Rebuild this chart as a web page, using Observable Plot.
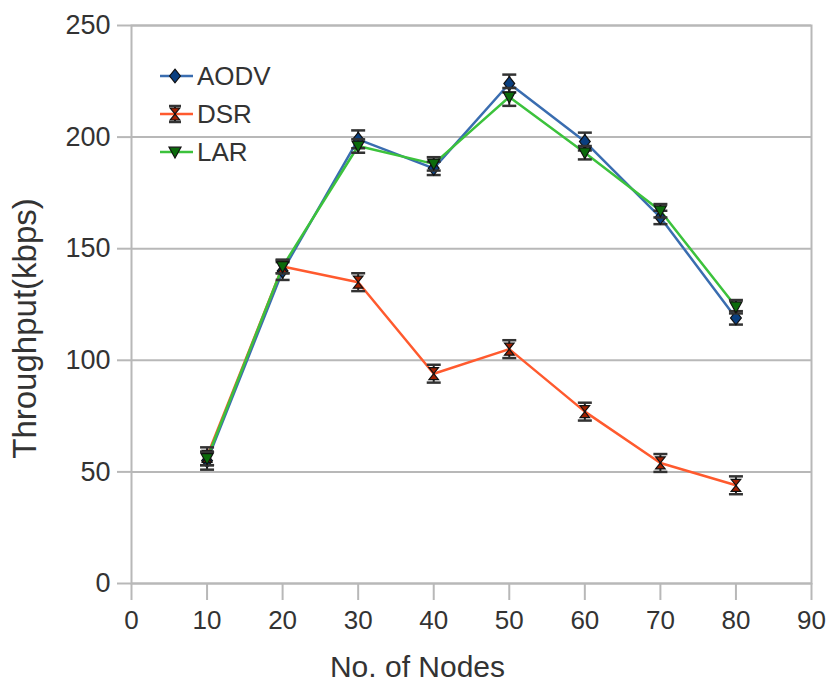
<!DOCTYPE html>
<html>
<head>
<meta charset="utf-8">
<script src="https://cdn.jsdelivr.net/npm/d3@7"></script>
<script src="https://cdn.jsdelivr.net/npm/@observablehq/plot@0.6"></script>
<style>
  html, body { margin: 0; padding: 0; background: #fff; }
  #chart { position: relative; width: 827px; height: 687px; }
</style>
</head>
<body>
<div id="chart"></div>
<script>
// ---- data ----
const seriesNames = ["AODV", "DSR", "LAR"];
const nodes = [10, 20, 30, 40, 50, 60, 70, 80];
const aodv = [55, 140, 199, 186, 224, 198, 164, 119];
const dsr  = [57, 142, 135, 94, 105, 77, 54, 44];
const lar  = [56, 142, 196, 188, 218, 193, 167, 124];
const aodvErr = [4, 4, 4, 3, 4, 4, 3, 3];
const dsrErr  = [4, 3, 4, 4, 4, 4, 4, 4];
const larErr  = [3, 3, 3, 3, 4, 3, 3, 3];
const xTicks = [0, 10, 20, 30, 40, 50, 60, 70, 80, 90];
const yTicks = [0, 50, 100, 150, 200, 250];
const xTitle = "No. of Nodes";
const yTitle = "Throughput(kbps)";

const lineColors = { AODV: "#3a6db0", DSR: "#ff5a2e", LAR: "#3cc23c" };
const markerFill = { AODV: "#0a3f80", DSR: "#a02000", LAR: "#0b6b0b" };

// custom symbols
const symDiamond = { draw(ctx, size) { const r = Math.sqrt(size / Math.PI); ctx.moveTo(0, -r * 1.15); ctx.lineTo(r * 0.9, 0); ctx.lineTo(0, r * 1.15); ctx.lineTo(-r * 0.9, 0); ctx.closePath(); } };
const symHourglass = { draw(ctx, size) { const r = Math.sqrt(size / Math.PI); ctx.moveTo(-r * 0.8, -r); ctx.lineTo(r * 0.8, -r); ctx.lineTo(-r * 0.8, r); ctx.lineTo(r * 0.8, r); ctx.closePath(); } };
const symTriDown = { draw(ctx, size) { const r = Math.sqrt(size / Math.PI); ctx.moveTo(-r, -r * 0.8); ctx.lineTo(r, -r * 0.8); ctx.lineTo(0, r); ctx.closePath(); } };
const symCap = { draw(ctx, size) { const r = Math.sqrt(size / Math.PI); ctx.moveTo(-r, 0); ctx.lineTo(r, 0); } };
const symbols = { AODV: symDiamond, DSR: symHourglass, LAR: symTriDown };

const valueSets = { AODV: [aodv, aodvErr], DSR: [dsr, dsrErr], LAR: [lar, larErr] };
const rows = [];
for (const s of seriesNames) {
  const [vals, errs] = valueSets[s];
  nodes.forEach((n, i) => rows.push({ series: s, x: n, y: vals[i], err: errs[i] }));
}

const marks = [
  Plot.gridY(yTicks, { stroke: "#b8b8b8", strokeOpacity: 1, strokeWidth: 2 }),
  Plot.frame({ stroke: "#b8b8b8", strokeWidth: 2 }),
  Plot.axisY(yTicks, { tickSize: 14, tickPadding: 7, stroke: "#b8b8b8", strokeWidth: 2, label: null, fontSize: 27, fill: "#333" }),
  Plot.axisX(xTicks, { tickSize: 17, tickPadding: 10, stroke: "#b8b8b8", strokeWidth: 2, label: null, fontSize: 26, fill: "#333" }),
  Plot.text([xTitle], { text: d => d, frameAnchor: "bottom", dx: -54, dy: 93, lineAnchor: "bottom", fontSize: 30, fill: "#333" }),
  Plot.text([yTitle], { text: d => d, frameAnchor: "left", textAnchor: "middle", rotate: -90, dx: -96, dy: 24, lineAnchor: "bottom", fontSize: 33, fill: "#333" })
];
for (const s of seriesNames) {
  const data = rows.filter(d => d.series === s);
  marks.push(Plot.line(data, { x: "x", y: "y", stroke: lineColors[s], strokeWidth: 2.5 }));
}
for (const s of seriesNames) {
  const data = rows.filter(d => d.series === s);
  marks.push(
    Plot.ruleX(data, { x: "x", y1: d => d.y - d.err, y2: d => d.y + d.err, stroke: "#222", strokeWidth: 2 }),
    Plot.dot(data, { x: "x", y: d => d.y - d.err, symbol: symCap, r: 7, fill: "none", stroke: "#333", strokeWidth: 2.5 }),
    Plot.dot(data, { x: "x", y: d => d.y + d.err, symbol: symCap, r: 7, fill: "none", stroke: "#333", strokeWidth: 2.5 }),
    Plot.dot(data, { x: "x", y: "y", symbol: symbols[s], r: 6, fill: markerFill[s], stroke: "#111", strokeWidth: 1.2 })
  );
}

const chart = Plot.plot({
  width: 827,
  height: 687,
  marginLeft: 131,
  marginRight: 16,
  marginTop: 25,
  marginBottom: 104,
  x: { domain: [0, 90] },
  y: { domain: [0, 250] },
  style: { fontFamily: "'Liberation Sans', Arial, sans-serif", fontSize: "26px", color: "#333", background: "#fff", overflow: "visible" },
  marks
});
document.getElementById("chart").appendChild(chart);

// ---- legend (inside plot, top-left) ----
const svg = d3.select(chart);
const lg = svg.append("g").attr("font-family", "'Liberation Sans', Arial, sans-serif").attr("font-size", 26).attr("text-anchor", "start");
seriesNames.forEach((s, i) => {
  const cy = 76 + i * 38;
  const g = lg.append("g").attr("transform", `translate(0,${cy})`);
  g.append("line").attr("x1", 160).attr("x2", 193).attr("y1", 0).attr("y2", 0)
    .attr("stroke", lineColors[s]).attr("stroke-width", 2.5);
  if (s === "DSR") {
    g.append("line").attr("x1", 175).attr("x2", 175).attr("y1", -8).attr("y2", 8).attr("stroke", "#222").attr("stroke-width", 2);
    g.append("line").attr("x1", 169).attr("x2", 181).attr("y1", -8).attr("y2", -8).attr("stroke", "#333").attr("stroke-width", 2.5);
    g.append("line").attr("x1", 169).attr("x2", 181).attr("y1", 8).attr("y2", 8).attr("stroke", "#333").attr("stroke-width", 2.5);
  }
  g.append("path").attr("transform", "translate(175,0)")
    .attr("d", d3.symbol(symbols[s], 36 * Math.PI)())
    .attr("fill", markerFill[s]).attr("stroke", "#111").attr("stroke-width", 1.2);
  g.append("text").attr("x", 197).attr("y", 0).attr("dy", "0.35em").attr("text-anchor", "start").attr("fill", "#333").text(s);
});
</script>
</body>
</html>
